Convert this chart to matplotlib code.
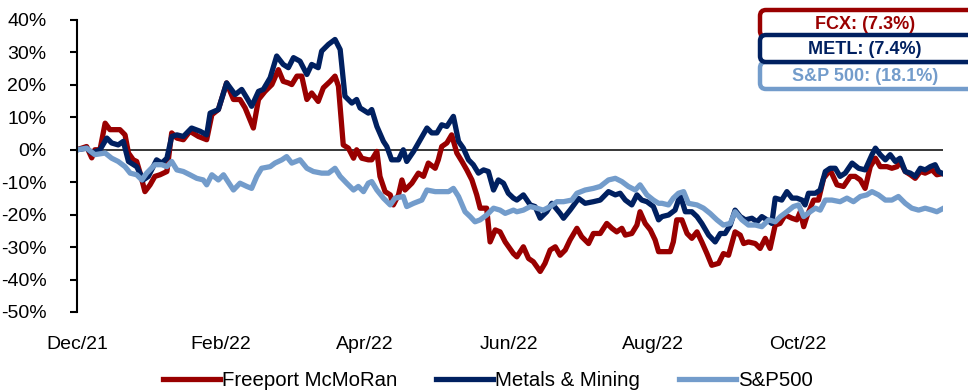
import matplotlib
matplotlib.use("Agg")
import matplotlib.pyplot as plt
from matplotlib.patches import FancyBboxPatch
from matplotlib.ticker import FuncFormatter

plt.rcParams['font.family'] = ['Liberation Sans', 'DejaVu Sans']

RED = '#990000'
NAVY = '#002060'
LIGHT = '#739CCB'

# x axis is in trading days since 1 Dec 2021
tick_days = [0, 42, 84, 126, 168, 210]
tick_labels = ['Dec/21', 'Feb/22', 'Apr/22', 'Jun/22', 'Aug/22', 'Oct/22']

# Freeport McMoRan, % change since start
fcx_day = [0, 2.8, 4.3, 5.2, 6.7, 8.2, 9.6, 12.5, 14.0, 15.0, 16.4, 17.4, 18.4, 19.8, 21.3, 22.7, 24.2,
           26.2, 27.6, 29.1, 31.0, 32.9, 35.4, 37.8, 39.3, 41.2, 43.6, 45.6, 47.5, 49.0, 50.4, 51.4,
           52.9, 54.8, 56.8, 58.7, 60.1, 61.6, 62.6, 64.1, 65.5, 67.0, 68.4, 70.3, 71.8, 73.8, 75.2,
           76.2, 77.6, 79.1, 80.6, 81.5, 83.0, 84.9, 85.9, 87.4, 88.3, 89.8, 91.3, 92.2, 93.7, 94.7,
           95.6, 97.6, 99.5, 101.0, 102.4, 104.4, 105.3, 106.3, 107.8, 109.2, 110.7, 112.2, 113.6,
           115.1, 116.5, 117.5, 119.4, 120.4, 121.9, 123.3, 124.8, 127.2, 128.2, 130.1, 131.6, 133.0,
           135.0, 136.4, 137.9, 139.4, 140.8, 142.3, 143.7, 145.7, 147.1, 149.1, 150.5, 152.5, 154.4,
           155.9, 157.3, 158.8, 159.8, 161.7, 163.2, 164.1, 165.6, 167.1, 168.5, 169.5, 171.4, 172.9,
           173.8, 174.8, 176.3, 177.8, 179.2, 180.7, 182.1, 183.6, 185.0, 187.0, 188.4, 189.9, 191.8,
           193.3, 194.3, 195.7, 197.7, 199.1, 200.6, 202.0, 203.5, 204.9, 206.4, 208.4, 209.8, 210.8,
           211.8, 212.7, 214.7, 216.1, 217.6, 219.5, 221.5, 223.4, 225.4, 226.8, 228.3, 229.7, 231.2,
           232.7, 234.1, 236.1, 237.5, 239.0, 239.9, 241.4, 242.9, 244.3, 245.8, 247.2, 249.2, 250.6,
           252.4]
fcx_pct = [0, 1, -2.5, 0, 0, 8.2, 6.2, 6.2, 4.6, -1, -3.1, -3.6, -7.2, -12.9, -10.8, -8.2, -7.7,
           -6.7, 5.2, 3.6, 3.1, 5.7, 4.1, 3.1, 10.8, 12.4, 20.6, 15.5, 15.5, 12.9, 9.3, 6.7,
           15.5, 18.0, 20.1, 24.7, 21.1, 20.6, 20.1, 22.7, 22.7, 15.5, 17.5, 14.9, 19.1, 21.1, 22.7,
           19.6, 1.5, 0.5, -2.6, 0, -2.6, -3.1, -3.1, -0.5, -8.2, -12.9, -13.9, -17, -13.9, -9.3,
           -12.4, -10.3, -7.2, -8.2, -4.1, -5.7, -3.1, 1, 2.1, 4.6, -1, -3.6, -6.2,
           -9.3, -13.9, -18, -18, -28.4, -24.7, -25.3, -28.4, -32, -33, -29.9, -33.5, -34.5,
           -37.5, -35, -30.9, -29.9, -32.5, -30.9, -27.8, -24.2, -26.8, -28.9, -25.8, -25.8, -22.7,
           -24.2, -25.3, -24.2, -26.3, -25.8, -23.2, -19.1, -22.7, -24.7, -27.8, -31.4, -31.4, -31.4,
           -28.4, -21.6, -21.6, -25.8, -27.3, -25.3, -28.4, -32, -35.6, -35, -32, -32.5, -25.3,
           -26.3, -28.9, -28.4, -28.9, -30.4, -27.3, -30.4, -23.2, -22.7, -20.1, -21.1, -21.6, -19.1,
           -23.7, -20.6, -15.5, -15.5, -8.8, -6.2, -10.8, -11.3, -8.2, -8.2, -9.3, -11.9, -5.2,
           -2.6, -5.2, -5.2, -5.7, -5.2, -3.6, -6.7, -7.7, -8.8, -6.7, -7.2, -6.2, -7.7,
           -7.3]

# Metals & Mining
metl_day = [0, 2.8, 4.3, 6.7, 8.7, 10.1, 12.0, 13.5, 15.0, 17.4, 19.3, 20.8, 23.2, 24.7, 26.2, 27.6,
            29.1, 31.0, 33.4, 35.9, 37.8, 38.8, 41.2, 43.6, 46.1, 48.0, 49.5, 50.9, 52.9, 54.3, 56.3,
            58.2, 60.1, 61.6, 63.1, 65.0, 67.0, 68.4, 70.3, 71.3, 73.3, 75.2, 76.7, 78.1, 80.1, 81.5,
            82.5, 84.9, 85.9, 87.4, 89.3, 90.3, 91.7, 93.7, 95.1, 96.1, 98.1, 99.5, 102.0, 103.4,
            104.9, 106.3, 107.8, 109.7, 111.2, 112.6, 114.1, 115.5, 117.0, 118.5, 119.9, 121.4, 122.8,
            124.3, 125.7, 127.2, 128.2, 130.1, 132.1, 133.5, 135.0, 136.9, 138.4, 140.8, 141.8, 143.7,
            146.2, 148.1, 150.5, 152.5, 154.9, 156.9, 158.3, 159.8, 161.7, 163.2, 164.6, 166.1, 168.0,
            169.5, 170.5, 172.4, 174.3, 175.8, 177.3, 179.2, 180.7, 182.1, 184.1, 186.0, 187.5, 188.9,
            190.4, 191.8, 193.3, 194.8, 196.7, 198.2, 199.6, 201.1, 202.5, 203.5, 205.4, 206.9, 208.4,
            209.8, 211.3, 212.2, 213.2, 215.2, 216.6, 218.1, 219.5, 221.0, 222.4, 223.9, 225.9, 227.8,
            229.7, 231.7, 232.7, 234.1, 235.6, 237.0, 238.5, 239.9, 241.4, 242.9, 244.3, 245.8, 247.2,
            248.7, 250.1, 251.1, 252.4]
metl_pct = [0, 0.5, -1, 0, 3.6, 2.1, 1.5, 2.6, -3.6, -5.2, -9.3, -8.2, -3.1, -4.1, -2.6, 4.1,
            4.6, 4.1, 6.7, 5.7, 4.6, 11.3, 12.4, 20.6, 17, 18.6, 16, 13.4, 18, 18.6, 22.2,
            28.9, 26.3, 25.3, 28.4, 27.3, 23.2, 26.3, 25.3, 30.4, 32.5, 34, 30.9, 16.5, 14.4, 15.5,
            12.9, 11.3, 12.4, 7.2, 2.6, 1, -3.1, -3.1, 0, -3.6, -0.5, 2.1, 6.7, 5.2,
            5.2, 7.7, 7.2, 10.3, 2.6, 0.5, -3.1, -4.6, -7.2, -6.2, -6.7, -12.4, -9.3,
            -10.3, -13.4, -14.9, -15.5, -13.9, -17, -17.5, -21.1, -19.1, -16.5, -19.6, -21.1, -18.6,
            -15, -16.5, -16, -15.5, -12.9, -13.9, -13.4, -15.5, -17, -13.9, -15.5, -16, -17.5,
            -21.6, -20.6, -20.1, -18.6, -13.9, -19.1, -19.1, -20.6, -22.7, -26.3, -28.4, -25.8, -25.8,
            -23.2, -18.6, -20.6, -21.6, -21.1, -22.2, -20.6, -21.6, -22.7, -14.9, -15.5, -12.9, -14.9,
            -14.9, -15.5, -17, -13.4, -13.4, -12.4, -6.7, -5.7, -5.7, -8.2, -7.2, -4.1, -5.7,
            -6.2, -1.5, 0.5, -1.5, -3.1, -1.5, -3.6, -2.6, -6.7, -7.2, -8.2, -5.7, -6.2,
            -5.2, -4.6, -6.7, -7.4]

# S&P 500
sp_day = [0, 2.8, 5.2, 8.2, 10.1, 12.0, 14.0, 15.5, 17.4, 18.9, 20.3, 22.7, 24.7, 26.2, 27.6, 29.1,
          31.0, 32.9, 34.9, 36.8, 37.8, 39.3, 41.2, 42.7, 45.6, 47.5, 49.5, 50.9, 52.4, 53.8, 56.3,
          57.7, 59.7, 61.1, 62.6, 65.0, 67.0, 68.9, 71.3, 73.3, 75.2, 76.7, 78.6, 80.6, 82.0, 83.5,
          84.9, 85.9, 87.4, 89.3, 91.3, 92.7, 95.1, 96.1, 98.1, 100.5, 102.0, 104.4, 106.3, 108.3,
          109.7, 111.2, 113.1, 114.6, 116.0, 117.5, 119.4, 121.4, 123.3, 124.8, 127.2, 128.2, 130.1,
          132.1, 134.0, 135.9, 137.9, 139.9, 141.8, 144.2, 145.7, 148.1, 150.5, 152.5, 154.9, 156.9,
          158.8, 160.7, 162.7, 164.1, 166.1, 168.0, 169.5, 170.5, 172.4, 173.8, 175.3, 176.8, 178.2,
          180.7, 182.6, 184.5, 186.5, 188.4, 190.4, 191.8, 193.8, 195.7, 197.7, 199.6, 201.6, 203.5,
          205.0, 206.9, 208.8, 210.3, 211.8, 213.7, 215.2, 216.6, 218.1, 220.0, 222.4, 224.4, 226.3,
          228.3, 230.2, 231.7, 233.6, 235.6, 237.5, 239.4, 241.4, 243.3, 245.3, 247.2, 249.2, 250.6,
          252.4]
sp_pct = [0, 0.5, -1.5, -1, -2.6, -3.6, -5.2, -7.2, -7.7, -9.3, -7.2, -4.6, -4.6, -5.2, -3.6, -6.2,
          -6.7, -7.7, -8.8, -9.3, -10.8, -7.7, -9.3, -7.7, -12.4, -10.3, -11.3, -11.9, -8.2, -5.7, -5.2,
          -4.1, -3.1, -2.1, -4.1, -3.1, -5.7, -6.7, -7.2, -7.2, -5.7, -8.2, -10.3, -12.4, -11.3, -12.9,
          -10.3, -9.8, -12.4, -14.9, -17, -14.9, -14.4, -17.5, -16.5, -15.5, -12.4, -12.9, -12.9, -12.9,
          -11.9, -14.4, -19.1, -20.6, -22.2, -21.6, -20.1, -18, -18.6, -19.6, -18.6, -19.1, -18.6,
          -17.5, -18, -18.6, -17.5, -16, -16, -15.5, -13.4, -12.4, -11.9, -11.3, -9.3, -8.8,
          -9.8, -11.3, -12.4, -10.8, -13.9, -15.5, -16.5, -16.5, -17, -14.9, -13.4, -12.9, -16.5,
          -17, -18, -19.6, -21.6, -23.2, -22.7, -19.1, -21.6, -23.2, -23.2, -23.7, -21.6, -22.2,
          -20.6, -19.1, -17.5, -17, -20.6, -19.1, -18, -18.6, -15.5, -15.5, -16, -14.9, -16,
          -14.4, -13.9, -12.9, -13.9, -15.5, -15.5, -14.4, -16.5, -18, -18.6, -18, -18.6, -19.1,
          -18.1]

assert len(fcx_day) == len(fcx_pct)
assert len(metl_day) == len(metl_pct)
assert len(sp_day) == len(sp_pct)

# end-of-period return boxes (top right)
box_labels = ['FCX: (7.3%)', 'METL: (7.4%)', 'S&P 500: (18.1%)']
box_colors = [RED, NAVY, LIGHT]

fig = plt.figure(figsize=(9.68, 3.92), dpi=100)
ax = fig.add_axes([77 / 968, 1 - 312 / 392, 866 / 968, 292 / 392])

ax.axhline(0, color='black', lw=1.1, zorder=1)
ax.plot(fcx_day, fcx_pct, color=RED, lw=3.8, solid_joinstyle='round', label='Freeport McMoRan')
ax.plot(metl_day, metl_pct, color=NAVY, lw=3.8, solid_joinstyle='round', label='Metals & Mining')
ax.plot(sp_day, sp_pct, color=LIGHT, lw=3.8, solid_joinstyle='round', label='S&P500')

ax.set_xlim(0, 252.4)
ax.set_ylim(-50, 40)
ax.set_yticks(range(-50, 41, 10))
ax.yaxis.set_major_formatter(FuncFormatter(lambda v, p: f'{v:.0f}%'))
ax.set_xticks(tick_days, tick_labels)
ax.tick_params(axis='x', length=0, pad=17, labelsize=14)
ax.tick_params(axis='y', length=5, width=1.5, direction='out', pad=17, labelsize=14)
for side in ['top', 'right', 'bottom']:
    ax.spines[side].set_visible(False)
ax.spines['left'].set_linewidth(1.5)

fig.legend(loc='center', bbox_to_anchor=(0.504, 0.03), ncol=3, frameon=False, fontsize=14.7,
           handlelength=2.8, handletextpad=0.1, columnspacing=1.9)

# overlay in pixel units for the label boxes
ov = fig.add_axes([0, 0, 1, 1])
ov.set_xlim(0, 968)
ov.set_ylim(392, 0)
ov.axis('off')
box_tops = [10, 35, 62]
for i in [0, 2, 1]:  # METL box drawn last so its border sits on top
    ov.add_patch(FancyBboxPatch((760, box_tops[i]), 230, 27, boxstyle='round,pad=0,rounding_size=6',
                                fc='white', ec=box_colors[i], lw=3.2))
for i, (lab, col) in enumerate(zip(box_labels, box_colors)):
    ov.text(865, box_tops[i] + 14, lab, color=col, fontsize=13, fontweight='bold',
            ha='center', va='center')

fig.savefig('out.png', dpi=100)
